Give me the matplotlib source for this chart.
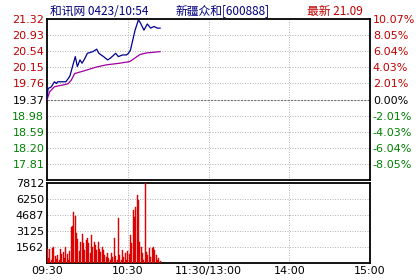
import matplotlib
matplotlib.use("Agg")
import matplotlib.pyplot as plt

plt.rcParams['font.family'] = ['DejaVu Sans', 'Noto Sans CJK SC']

# price line (minutes after 09:30, price)
price_min = [0, 0.8, 3, 5.5, 7, 8, 14, 17, 19.6, 21, 22.5, 24.5, 26, 27.5, 30, 34, 36.9,
             38.5, 42, 45, 47, 51, 53, 56, 59, 60.5, 62, 65.4, 67.9, 69.5, 72, 74.5,
             77, 79.5, 82, 84]
price = [19.40, 19.64, 19.67, 19.80, 19.76, 19.80, 19.80, 19.94, 20.25, 20.41, 20.17,
         20.33, 20.25, 20.33, 20.49, 20.53, 20.59, 20.49, 20.41, 20.33, 20.37, 20.49,
         20.41, 20.45, 20.45, 20.49, 20.57, 21.05, 21.30, 21.22, 21.05, 21.20, 21.10,
         21.14, 21.10, 21.10]

avg_min = [0, 2, 5.5, 15.5, 18, 20.5, 27, 37, 44, 54, 61.5, 65.5, 69, 74, 84]
avg_price = [19.37, 19.56, 19.68, 19.75, 19.84, 20.00, 20.06, 20.16, 20.21, 20.25,
             20.29, 20.38, 20.46, 20.50, 20.53]

volume = [1400, 500, 1350, 300, 1450, 1550, 700, 400, 800, 300,
          1350, 900, 1100, 500, 1550, 900, 300, 1200, 3500, 3600,
          4950, 4550, 2900, 2300, 1200, 2000, 2850, 1900, 1300, 2200,
          2400, 1900, 1000, 2750, 1550, 2050, 1700, 1250, 2050, 1400,
          1100, 1600, 1250, 800, 600, 950, 500, 300, 950, 600,
          2400, 700, 300, 4400, 800, 300, 1250, 600, 950, 300,
          1200, 900, 2750, 1900, 5200, 4500, 5500, 6650, 6150, 2050,
          1600, 950, 300, 7812, 1100, 800, 1450, 600, 1450, 1600,
          1250, 800, 300, 500, 200]

prev_close = 19.37
price_ticks = [21.32, 20.93, 20.54, 20.15, 19.76, 19.37, 18.98, 18.59, 18.20, 17.81]
pct_labels = ["10.07%", "8.05%", "6.04%", "4.03%", "2.01%", "0.00%",
              "-2.01%", "-4.03%", "-6.04%", "-8.05%"]
vol_ticks = [1562, 3125, 4687, 6250, 7812]
time_ticks = [0, 60, 120, 180, 240]
time_labels = ["09:30", "10:30", "11:30/13:00", "14:00", "15:00"]

RED = "#c00000"
GREEN = "#008000"
NAVY = "#000080"
GRID = "#a8a8a8"
DOTS = (0, (1.2, 1.8))

fig = plt.figure(figsize=(4.2, 2.8), dpi=100)
ax = fig.add_axes([0.112, 0.357, 0.769, 0.575])
axv = fig.add_axes([0.112, 0.061, 0.769, 0.286])

for a in (ax, axv):
    a.set_xlim(0, 240)
    for s in a.spines.values():
        s.set_linewidth(1.3)
    a.tick_params(length=0, labelsize=8, pad=2)
    for t in [60, 120, 180]:
        a.plot([t, t], [0, 1], transform=a.get_xaxis_transform(), color=GRID,
               lw=0.6, ls=DOTS, zorder=1)

# price panel
ax.set_ylim(17.42, 21.32)
ax.set_yticks(price_ticks)
ax.set_yticklabels(["%.2f" % p for p in price_ticks])
for p in price_ticks[1:]:
    if p == prev_close:
        ax.axhline(p, color="#707070", lw=0.8, ls=(0, (2, 1)), zorder=1)
    else:
        ax.axhline(p, color=GRID, lw=0.6, ls=DOTS, zorder=1)
ax.set_xticks([])
for lbl, p in zip(ax.get_yticklabels(), price_ticks):
    lbl.set_color(RED if p > prev_close else ("black" if p == prev_close else GREEN))

axr = ax.twinx()
axr.set_ylim(ax.get_ylim())
axr.set_yticks(price_ticks)
axr.set_yticklabels(pct_labels)
axr.tick_params(length=0, labelsize=8, pad=2)
for s in axr.spines.values():
    s.set_visible(False)
for lbl, p in zip(axr.get_yticklabels(), price_ticks):
    lbl.set_color(RED if p > prev_close else ("black" if p == prev_close else GREEN))

ax.plot(avg_min, avg_price, color="#a000a0", lw=0.9, zorder=3)
ax.plot(price_min, price, color="#000090", lw=0.9, zorder=4)

# volume panel
axv.set_ylim(0, 7812)
axv.set_yticks(vol_ticks)
for v in vol_ticks[:-1]:
    axv.axhline(v, color=GRID, lw=0.6, ls=DOTS, zorder=1)
axv.bar(range(len(volume)), volume, width=0.75, color="#ff0000",
        edgecolor="#c00000", linewidth=0.3, zorder=3)
axv.set_xticks(time_ticks)
axv.set_xticklabels(time_labels)

title_font = ["Noto Sans CJK SC", "DejaVu Sans"]
fig.text(0.119, 0.960, "和讯网 0423/10:54", color=NAVY, fontsize=8.5, va="center",
         family=title_font)
fig.text(0.419, 0.960, "新疆众和[600888]", color=NAVY, fontsize=8.5, va="center",
         family=title_font)
fig.text(0.731, 0.960, "最新 21.09", color=RED, fontsize=8.5, va="center",
         family=title_font)

fig.savefig("out.png", dpi=100, facecolor="white")
